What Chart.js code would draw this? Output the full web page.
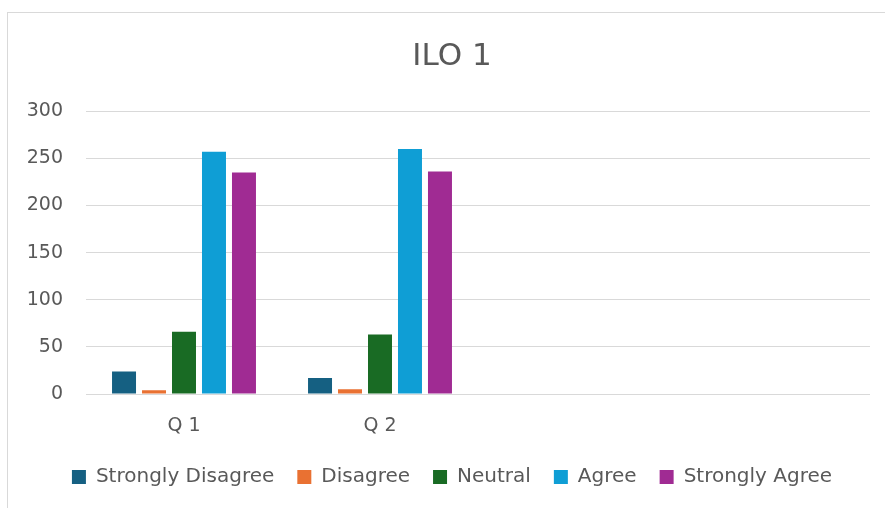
<!DOCTYPE html>
<html>
<head>
<meta charset="utf-8">
<script src="https://cdn.jsdelivr.net/npm/chart.js@4.4.1/dist/chart.umd.min.js"></script>
<style>
  html, body { margin: 0; padding: 0; background: #fff; overflow: hidden; }
  #frame {
    position: absolute; left: 7px; top: 12px; width: 900px; height: 520px;
    border-left: 1px solid #d9d9d9; border-top: 1px solid #d9d9d9;
  }
  #wrap { position: absolute; left: 8px; top: 13px; width: 888px; height: 495px; }
</style>
</head>
<body>
<div id="frame"></div>
<div id="wrap"><canvas id="myChart"></canvas></div>
<script>
var categories = ["Q 1", "Q 2", "", ""];
var seriesNames = ["Strongly Disagree", "Disagree", "Neutral", "Agree", "Strongly Agree"];
var seriesColors = ["#156082", "#E97132", "#196B24", "#0F9ED5", "#A02B93"];

var stronglyDisagree = [24, 17, null, null];
var disagree = [4, 5, null, null];
var neutral = [66, 63, null, null];
var agree = [257, 260, null, null];
var stronglyAgree = [235, 236, null, null];

var yTicks = [0, 50, 100, 150, 200, 250, 300];

var allSeries = [stronglyDisagree, disagree, neutral, agree, stronglyAgree];
var textColor = "#595959";
var fontName = "DejaVu Sans";

var datasets = allSeries.map(function (vals, i) {
  return {
    label: seriesNames[i],
    data: vals,
    backgroundColor: seriesColors[i],
    borderWidth: 0,
    barPercentage: 0.8,
    categoryPercentage: 0.765,
  };
});

var myChart = new Chart("myChart", {
  type: "bar",
  data: { labels: categories, datasets: datasets },
  options: {
    responsive: true,
    maintainAspectRatio: false,
    animation: false,
    layout: { padding: { left: 0, right: 0, top: 0, bottom: 11 } },
    plugins: {
      title: {
        display: true,
        text: "ILO 1",
        color: textColor,
        font: { family: fontName, size: 31, weight: "normal" },
        padding: { top: 25, bottom: 36 },
      },
      legend: {
        position: "bottom",
        labels: {
          color: textColor,
          font: { family: fontName, size: 20 },
          boxWidth: 14,
          boxHeight: 14,
          padding: 23,
        },
      },
      tooltip: { enabled: false },
    },
    scales: {
      x: {
        grid: { display: false, drawTicks: false },
        border: { display: false },
        ticks: {
          color: textColor,
          font: { family: fontName, size: 19 },
          padding: 21,
          maxRotation: 0,
        },
        afterFit: function (scale) { scale.height = 50; },
      },
      y: {
        min: 0,
        max: 300,
        afterBuildTicks: function (scale) {
          scale.ticks = yTicks.map(function (v) { return { value: v }; });
        },
        grid: { color: "#d9d9d9", lineWidth: 1, drawTicks: false },
        border: { display: false },
        ticks: {
          color: textColor,
          font: { family: fontName, size: 19 },
          padding: 23,
        },
        afterFit: function (scale) { scale.width = 78; },
      },
      // empty right-hand spacer so the title and legend sit where the original has them
      spacer: {
        position: "right",
        grid: { display: false, drawTicks: false },
        border: { display: false },
        ticks: { display: false },
        afterFit: function (scale) { scale.width = 26; },
      },
    },
  },
});
</script>
</body>
</html>
